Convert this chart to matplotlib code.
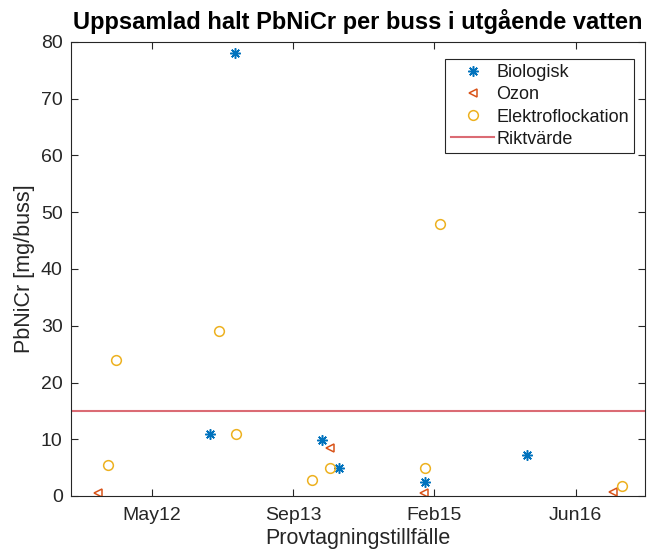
import matplotlib
matplotlib.use("Agg")
import matplotlib.pyplot as plt
import matplotlib.dates as mdates
import numpy as np

# data
bio_dates = ['2012-12-03', '2013-02-27', '2014-01-03', '2014-03-02', '2014-12-31', '2015-12-27']
bio_vals = [10.9, 78, 9.8, 4.9, 2.5, 7.2]

ozon_dates = ['2011-11-02', '2014-01-29', '2014-12-30', '2016-10-27']
ozon_vals = [0.5, 8.4, 0.5, 0.7]

elektro_dates = ['2011-12-06', '2012-01-03', '2013-01-04', '2013-03-04', '2013-11-29',
                 '2014-01-29', '2014-12-31', '2015-02-25', '2016-11-28']
elektro_vals = [5.4, 24, 29, 10.9, 2.9, 5.0, 5.0, 48, 1.7]

riktvarde = 15
tick_dates = ['2012-05-11', '2013-09-23', '2015-02-04', '2016-06-18']
x_limits = ['2011-07-29', '2017-02-18']

plt.rcParams['font.family'] = ['Liberation Sans', 'DejaVu Sans']

def to_dates(lst):
    return np.array(lst, dtype='datetime64[D]')

fig = plt.figure(figsize=(6.52, 5.6), dpi=100)
ax = fig.add_axes([71 / 652, 1 - 496 / 560, (645 - 71) / 652, (496 - 42) / 560])

# MATLAB style asterisk: 8 armed star of lines
ax.plot(to_dates(bio_dates), bio_vals, linestyle='none', marker=(8, 2, 0), color='#0072BD',
        markersize=7.5, markeredgewidth=1.1, label='Biologisk')
ax.plot(to_dates(ozon_dates), ozon_vals, linestyle='none', marker='<', color='#D95319',
        markerfacecolor='none', markersize=6, markeredgewidth=1.1, label='Ozon')
ax.plot(to_dates(elektro_dates), elektro_vals, linestyle='none', marker='o', color='#EDB120',
        markerfacecolor='none', markersize=7, markeredgewidth=1.1, label='Elektroflockation')
ax.axhline(riktvarde, color='#DB6B74', linewidth=1.5, label='Riktvärde')

ax.set_xlim(to_dates(x_limits))
ax.set_ylim(0, 80)
ax.set_yticks(range(0, 81, 10))
ax.set_xticks(to_dates(tick_dates))
ax.xaxis.set_major_formatter(mdates.DateFormatter('%b%y'))

ax.tick_params(direction='in', top=True, right=True, length=5, width=0.8,
               labelsize=14, colors='#262626')
ax.tick_params(axis='x', pad=8)
ax.tick_params(axis='y', pad=6)
for s in ax.spines.values():
    s.set_color('#262626')
    s.set_linewidth(0.8)

ax.set_xlabel('Provtagningstillfälle', fontsize=15.5, color='#262626', labelpad=3)
ax.set_ylabel('PbNiCr [mg/buss]', fontsize=15.5, color='#262626', labelpad=4)
ax.set_title('Uppsamlad halt PbNiCr per buss i utgående vatten', fontsize=17,
             fontweight='bold', pad=9)

leg = ax.legend(loc='upper right', bbox_to_anchor=(0.981, 0.9626), fontsize=13,
                fancybox=False, framealpha=1, edgecolor='#262626', labelspacing=0.28,
                borderpad=0.3, handlelength=2.4, handletextpad=0.1, borderaxespad=0)
leg.get_frame().set_linewidth(0.8)
for t in leg.get_texts():
    t.set_color('#1a1a1a')

fig.savefig('out.png', dpi=100)
